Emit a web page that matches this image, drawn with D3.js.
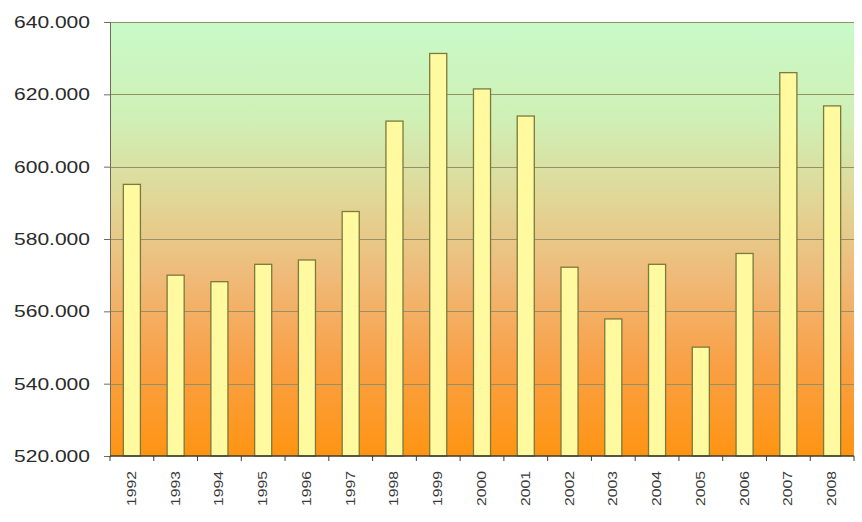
<!DOCTYPE html>
<html>
<head>
<meta charset="utf-8">
<script src="https://cdn.jsdelivr.net/npm/d3@7"></script>
<style>
  body { margin: 0; background: #fff; }
  svg { display: block; }
</style>
</head>
<body>
<div id="chart"></div>
<script>
var years = ["1992", "1993", "1994", "1995", "1996", "1997", "1998", "1999", "2000",
             "2001", "2002", "2003", "2004", "2005", "2006", "2007", "2008"];
var values = [595100, 570000, 568200, 573000, 574200, 587600, 612600, 631300, 621500,
              614000, 572200, 557900, 573000, 550100, 576000, 626000, 616800];
var yTicks = [520000, 540000, 560000, 580000, 600000, 620000, 640000];

function draw_Chart() {
    "use strict";
    var width = 862, height = 522;
    var margin = {top: 22, right: 8, bottom: 66, left: 110};

    var svg = d3.select("#chart")
        .append("svg")
        .attr("width", width)
        .attr("height", height);

    var x = d3.scaleBand()
        .domain(years)
        .range([margin.left, width - margin.right])
        .paddingInner(0.61)
        .paddingOuter(0.305);

    var y = d3.scaleLinear()
        .domain([520000, 640000])
        .range([height - margin.bottom, margin.top]);

    var locale = d3.formatLocale({decimal: ",", thousands: ".", grouping: [3], currency: ["", ""]});
    var fmt = locale.format(",d");

    // background gradient green -> orange
    var defs = svg.append("defs");
    var grad = defs.append("linearGradient")
        .attr("id", "bg")
        .attr("x1", 0).attr("y1", 0)
        .attr("x2", 0).attr("y2", 1);
    grad.append("stop").attr("offset", "0%").attr("stop-color", "#c8fac8");
    grad.append("stop").attr("offset", "22%").attr("stop-color", "#cff0b6");
    grad.append("stop").attr("offset", "40%").attr("stop-color", "#e0d898");
    grad.append("stop").attr("offset", "58%").attr("stop-color", "#efbb7a");
    grad.append("stop").attr("offset", "78%").attr("stop-color", "#f9a148");
    grad.append("stop").attr("offset", "100%").attr("stop-color", "#ff9412");

    svg.append("rect")
        .attr("x", margin.left)
        .attr("y", margin.top)
        .attr("width", width - margin.left - margin.right)
        .attr("height", height - margin.top - margin.bottom)
        .style("fill", "url(#bg)");

    // gridlines
    svg.append("g")
        .selectAll("line")
        .data(yTicks.slice(1))
        .enter()
        .append("line")
        .attr("x1", margin.left)
        .attr("x2", width - margin.right)
        .attr("y1", function (d) { return Math.round(y(d)) + 0.5; })
        .attr("y2", function (d) { return Math.round(y(d)) + 0.5; })
        .style("stroke", "#94906a")
        .style("stroke-width", 1);

    // bars
    svg.append("g")
        .selectAll("rect")
        .data(values)
        .enter()
        .append("rect")
        .attr("x", function (d, i) { return x(years[i]); })
        .attr("y", function (d) { return y(d); })
        .attr("width", x.bandwidth())
        .attr("height", function (d) { return y(520000) - y(d); })
        .style("fill", "#fff9a0")
        .style("stroke", "#7c7a3c")
        .style("stroke-width", 1.3);

    // y axis
    var yAxis = svg.append("g")
        .attr("transform", "translate(" + margin.left + ",0)")
        .call(d3.axisLeft(y).tickValues(yTicks).tickSize(6).tickPadding(14).tickFormat(fmt));
    yAxis.select(".domain").style("stroke", "#6e6c58");
    yAxis.selectAll(".tick line").style("stroke", "#6e6c58");
    yAxis.selectAll("text")
        .style("font-family", "Liberation Sans, Arial, sans-serif")
        .style("font-size", "17px")
        .style("fill", "#2a2a2a")
        .attr("textLength", 76)
        .attr("lengthAdjust", "spacingAndGlyphs");

    // x axis line and category ticks
    var base = y(520000);
    svg.append("line")
        .attr("x1", margin.left)
        .attr("x2", width - margin.right)
        .attr("y1", base)
        .attr("y2", base)
        .style("stroke", "#3c3a2c")
        .style("stroke-width", 1.5);

    var step = x.step();
    svg.append("g")
        .selectAll("line")
        .data(d3.range(years.length + 1))
        .enter()
        .append("line")
        .attr("x1", function (i) { return margin.left + i * step; })
        .attr("x2", function (i) { return margin.left + i * step; })
        .attr("y1", base)
        .attr("y2", base + 5)
        .style("stroke", "#3c3a2c");

    svg.append("g")
        .selectAll("text")
        .data(years)
        .enter()
        .append("text")
        .attr("transform", function (d) {
            return "translate(" + (x(d) + x.bandwidth() / 2 + 4) + "," + (base + 15) + ") rotate(-90)";
        })
        .attr("text-anchor", "end")
        .style("font-family", "Liberation Sans, Arial, sans-serif")
        .style("font-size", "13px")
        .style("fill", "#3a3a3a")
        .attr("textLength", 35)
        .attr("lengthAdjust", "spacingAndGlyphs")
        .text(function (d) { return d; });
}

draw_Chart();
</script>
</body>
</html>
